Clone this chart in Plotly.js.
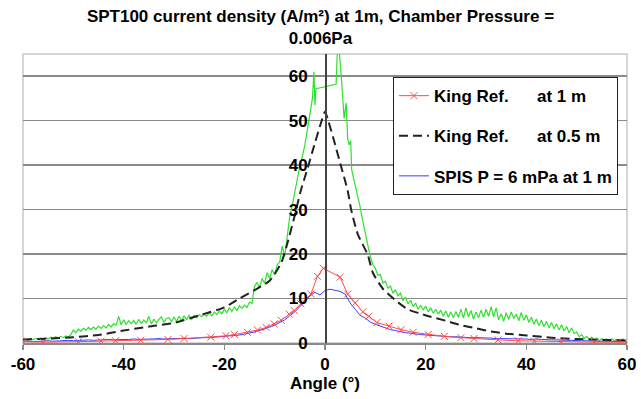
<!DOCTYPE html>
<html>
<head>
<meta charset="utf-8">
<script src="https://cdn.plot.ly/plotly-3.0.1.min.js"></script>
<style>html,body{margin:0;padding:0;background:#fff;}#chart{width:641px;height:399px;}</style>
</head>
<body>
<div id="chart"></div>
<script>
// ---- data ----
const xTickVals = [-60, -40, -20, 0, 20, 40, 60];
const xTickText = ['-60', '-40', '-20', '0', '20', '40', '60'];
const yTickVals = [0, 10, 20, 30, 40, 50, 60];

// King Ref. at 1 m (red, x markers)
const king1Angle = [-60, -56, -49, -44.5, -41.6, -36.6, -31.2, -28, -22.7, -19.7, -18, -15.4, -13.4, -11.7, -10.1, -8.7, -7.1, -6.1, -4.8, -2.8, -1.5, -0.3, 3.0, 4.5, 6.0, 7.5, 8.7, 10.3, 12.7, 15.1, 17.5, 20.5, 23.7, 27, 29.6, 34.4, 38.4, 41.6, 46.9, 53.5, 58.3, 60];
const king1Density = [0.3, 0.2, 0.3, 0.4, 0.5, 0.6, 0.8, 1.0, 1.3, 1.6, 1.9, 2.4, 2.9, 3.5, 4.3, 5.1, 6.5, 7.3, 8.8, 11.0, 15.0, 16.8, 14.8, 11.0, 9.0, 7.0, 6.0, 4.6, 3.8, 3.0, 2.4, 1.9, 1.5, 1.2, 1.0, 0.7, 0.5, 0.4, 0.3, 0.2, 0.2, 0.2];

// King Ref. at 0.5 m (black dashed)
const king05Angle = [-60, -55, -50, -45, -40, -35, -30, -25, -20, -17, -14, -11, -8.7, -7.4, -6.1, -4.8, -3.4, -2, -0.8, 0, 0.7, 1.8, 3.2, 4.5, 5.2, 6.5, 8.5, 9.5, 11.5, 13.8, 16.4, 19, 21, 24, 27, 30, 33, 36, 40, 45, 50, 55, 60];
const king05Density = [0.8, 1.0, 1.3, 1.8, 2.8, 3.7, 4.5, 6.2, 8.0, 10.0, 11.9, 14.0, 18.0, 22.7, 28.3, 34.3, 39.5, 45.0, 49.5, 52.0, 49.8, 45.5, 39.7, 34.3, 30.0, 24.5, 19.8, 15.8, 12.2, 9.8, 7.6, 6.6, 5.9, 5.0, 4.0, 3.3, 2.6, 2.1, 1.7, 1.2, 0.9, 0.7, 0.6];

// SPIS P = 6 mPa at 1 m (blue)
const spisAngle = [-60, -59, -58, -57, -56, -55, -54, -53, -52, -51, -50, -49, -48, -47, -46, -45, -44, -43, -42, -41, -40, -39, -38, -37, -36, -35, -34, -33, -32, -31, -30, -29, -28, -27, -26, -25, -24, -23, -22, -21, -20, -19, -18, -17, -16, -15, -14, -13, -12, -11, -10, -9, -8, -7, -6, -5, -4, -3, -2, -1, 0, 1, 2, 3, 4, 5, 6, 7, 8, 9, 10, 11, 12, 13, 14, 15, 16, 17, 18, 19, 20, 21, 22, 23, 24, 25, 26, 27, 28, 29, 30, 31, 32, 33, 34, 35, 36, 37, 38, 39, 40, 41, 42, 43, 44, 45, 46, 47, 48, 49, 50, 51, 52, 53, 54, 55, 56, 57, 58, 59, 60];
const spisDensity = [0.3, 0.4, 0.3, 0.4, 0.4, 0.5, 0.4, 0.5, 0.5, 0.6, 0.5, 0.6, 0.6, 0.7, 0.6, 0.7, 0.7, 0.8, 0.7, 0.8, 0.8, 0.8, 0.9, 0.8, 0.9, 0.9, 0.9, 1.0, 0.9, 1.0, 1.0, 1.0, 1.1, 1.0, 1.1, 1.1, 1.2, 1.2, 1.3, 1.3, 1.4, 1.5, 1.7, 1.8, 2.0, 2.2, 2.5, 2.8, 3.2, 3.6, 4.0, 4.6, 5.2, 6.1, 7.0, 8.2, 9.2, 10.6, 11.4, 10.8, 11.8, 12.1, 11.9, 11.6, 11.0, 9.0, 7.6, 6.2, 5.6, 4.7, 4.2, 3.8, 3.3, 3.0, 2.8, 2.5, 2.3, 2.2, 2.0, 1.9, 1.8, 1.7, 1.6, 1.6, 1.5, 1.4, 1.4, 1.3, 1.3, 1.2, 1.2, 1.2, 1.1, 1.1, 1.0, 1.0, 1.0, 0.9, 1.0, 0.9, 0.9, 0.8, 0.9, 0.8, 0.7, 0.7, 0.7, 0.6, 0.6, 0.6, 0.5, 0.5, 0.5, 0.4, 0.4, 0.4, 0.4, 0.3, 0.3, 0.3, 0.3];

// Measured curve (green, no legend entry)
const measAngle = [-60, -59.5, -59, -58.5, -58, -57.5, -57, -56.5, -56, -55.5, -55, -54.5, -54, -53.5, -53, -52.5, -52, -51.5, -51, -50.5, -50, -49.5, -49, -48.5, -48, -47.5, -47, -46.5, -46, -45.5, -45, -44.5, -44, -43.5, -43, -42.5, -42, -41.5, -41, -40.5, -40, -39.5, -39, -38.5, -38, -37.5, -37, -36.5, -36, -35.5, -35, -34.5, -34, -33.5, -33, -32.5, -32, -31.5, -31, -30.5, -30, -29.5, -29, -28.5, -28, -27.5, -27, -26.5, -26, -25.5, -25, -24.5, -24, -23.5, -23, -22.5, -22, -21.5, -21, -20.5, -20, -19.5, -19, -18.5, -18, -17.5, -17, -16.5, -16, -15.5, -15, -14.5, -14, -13.5, -13, -12.5, -12, -11.5, -11, -10.5, -10, -9.5, -9, -8.5, -8, -7.5, -7, -6.5, -6, -5.5, -5, -4.5, -4, -3.5, -3, -2.5, -2.2, -2, -1.8, 2.2, 2.5, 2.8, 3.2, 3.5, 3.8, 4.2, 4.5, 4.8, 5.1, 5.3, 5.5, 6, 6.5, 7, 7.5, 8, 8.5, 9, 9.5, 10, 10.5, 11, 11.5, 12, 12.5, 13, 13.5, 14, 14.5, 15, 15.5, 16, 16.5, 17, 17.5, 18, 18.5, 19, 19.5, 20, 20.5, 21, 21.5, 22, 22.5, 23, 23.5, 24, 24.5, 25, 25.5, 26, 26.5, 27, 27.5, 28, 28.5, 29, 29.5, 30, 30.5, 31, 31.5, 32, 32.5, 33, 33.5, 34, 34.5, 35, 35.5, 36, 36.5, 37, 37.5, 38, 38.5, 39, 39.5, 40, 40.5, 41, 41.5, 42, 42.5, 43, 43.5, 44, 44.5, 45, 45.5, 46, 46.5, 47, 47.5, 48, 48.5, 49, 49.5, 50, 50.5, 51, 51.5, 52, 52.5, 53, 53.5, 54, 54.5, 55, 55.5, 56, 56.5, 57, 57.5, 58, 58.5, 59, 59.5, 60];
const measDensity = [0.7, 0.9, 0.6, 1.0, 0.7, 1.0, 0.8, 1.1, 0.8, 1.2, 0.9, 1.3, 1.0, 1.4, 1.1, 1.5, 1.2, 1.6, 1.3, 1.9, 2.9, 2.3, 3.1, 2.6, 3.3, 2.9, 3.5, 3.0, 3.6, 3.1, 3.8, 3.3, 3.9, 3.4, 4.2, 3.6, 4.3, 4.0, 6.0, 4.1, 5.2, 4.2, 5.0, 4.3, 5.1, 4.2, 5.3, 4.4, 5.2, 4.5, 6.0, 4.3, 5.4, 4.5, 5.3, 5.9, 4.6, 5.5, 5.7, 4.8, 5.8, 4.9, 6.0, 5.0, 6.1, 5.2, 6.3, 5.3, 6.2, 5.7, 6.4, 5.9, 6.5, 6.0, 6.9, 6.1, 7.0, 6.4, 7.2, 6.6, 7.6, 6.8, 7.9, 7.1, 8.1, 7.3, 8.4, 7.8, 8.5, 8.0, 9.2, 8.9, 12.8, 13.6, 12.5, 14.5, 13.4, 15.8, 14.5, 16.5, 15.3, 17.6, 18.2, 21.8, 19.5, 24.0, 28.5, 31.0, 34.2, 37.0, 39.8, 42.0, 44.5, 48.0, 51.5, 55.0, 61.0, 53.5, 57.2, 58.2, 67.0, 66.0, 60.5, 56.0, 50.5, 54.0, 46.0, 44.5, 45.5, 39.0, 38.0, 36.0, 33.5, 30.5, 27.5, 24.5, 22.0, 19.5, 17.6, 16.8, 15.2, 15.4, 13.5, 13.9, 12.3, 12.8, 11.2, 12.0, 10.6, 11.2, 9.5, 10.3, 8.8, 9.6, 8.2, 9.0, 7.6, 8.5, 7.4, 8.3, 7.0, 7.9, 6.7, 7.6, 6.5, 7.4, 6.0, 7.2, 5.8, 7.0, 5.7, 7.1, 5.8, 7.6, 5.6, 7.9, 5.9, 7.3, 5.4, 7.0, 5.7, 7.4, 5.8, 7.6, 6.0, 8.2, 5.9, 7.9, 5.2, 6.6, 4.9, 6.8, 5.3, 7.0, 5.5, 6.5, 5.0, 6.9, 5.1, 6.3, 4.6, 5.8, 4.2, 5.4, 3.9, 5.1, 3.7, 4.9, 3.4, 4.6, 3.2, 4.3, 2.9, 4.1, 2.7, 3.7, 2.3, 3.4, 2.1, 2.5, 1.4, 1.9, 1.0, 1.5, 0.8, 1.3, 0.6, 1.1, 0.5, 1.0, 0.5, 0.9, 0.5, 0.9, 0.5, 0.8, 0.5, 0.8, 0.5, 0.8, 0.5, 0.7];

const seriesNames = ['King Ref.\u00a0\u00a0\u00a0\u00a0\u00a0\u00a0at 1 m', 'King Ref.\u00a0\u00a0\u00a0\u00a0\u00a0\u00a0at 0.5 m', 'SPIS P = 6 mPa at 1 m'];
const titleText = 'SPT100 current density (A/m²) at 1m, Chamber Pressure =<br>0.006Pa';
const xTitle = 'Angle (°)';

// ---- chart ----
const FONT = 'Liberation Sans, Arial, sans-serif';
const traces = [
  {x: measAngle, y: measDensity, type: 'scatter', mode: 'lines', showlegend: false,
   line: {color: '#2fe02f', width: 1.2}, hoverinfo: 'skip'},
  {x: king05Angle, y: king05Density, type: 'scatter', mode: 'lines', name: seriesNames[1],
   legendgroup: 'b', legendrank: 2, line: {color: '#222222', width: 2, dash: '9px,5px', shape: 'spline', smoothing: 0.6}},
  {x: spisAngle, y: spisDensity, type: 'scatter', mode: 'lines', name: seriesNames[2],
   legendgroup: 'c', legendrank: 3, line: {color: '#3c3cff', width: 1}},
  {x: king1Angle, y: king1Density, type: 'scatter', mode: 'lines+markers', name: seriesNames[0],
   legendgroup: 'a', legendrank: 1, line: {color: '#ff4a4a', width: 1},
   marker: {symbol: 'x-thin', size: 7, color: '#ff4a4a', line: {color: '#ff4a4a', width: 1}}}
];

const layout = {
  width: 641, height: 399,
  margin: {l: 23, r: 14, t: 54, b: 56},
  paper_bgcolor: '#ffffff', plot_bgcolor: '#ffffff',
  font: {family: FONT, size: 17, color: '#000'},
  title: {text: titleText, font: {family: FONT, size: 17, weight: 'bold', color: '#000'},
          x: 0.5, xanchor: 'center', y: 0.945, yanchor: 'top'},
  xaxis: {range: [-60, 60], tickmode: 'array', tickvals: xTickVals, ticktext: xTickText,
          ticks: 'outside', ticklen: 5, tickcolor: '#8a8a8a', tickwidth: 1.5,
          showgrid: false, zeroline: false, showline: true, linecolor: '#8a8a8a', linewidth: 1.5,
          tickfont: {family: FONT, size: 17, weight: 'bold'},
          title: {text: xTitle, font: {family: FONT, size: 17, weight: 'bold'}, standoff: 4}},
  yaxis: {range: [0, 65], anchor: 'free', position: 0.5, tickmode: 'array', tickvals: yTickVals,
          showgrid: true, gridcolor: '#8a8a8a', gridwidth: 1.5, zeroline: false,
          showline: true, linecolor: '#444444', linewidth: 1.5, ticks: '', ticklabelstandoff: 14,
          tickfont: {family: FONT, size: 17, weight: 'bold'}},
  legend: {x: 0.6126, y: 0.92, xanchor: 'left', yanchor: 'top', bgcolor: '#ffffff',
           bordercolor: '#222222', borderwidth: 1, traceorder: 'grouped', tracegroupgap: 15,
           font: {family: FONT, size: 17, weight: 'bold', color: '#000'}},
  shapes: [{type: 'rect', xref: 'paper', yref: 'paper', x0: 0, x1: 1, y0: 0, y1: 1,
            line: {color: '#c8c8c8', width: 1.5}, layer: 'below'}]
};

Plotly.newPlot('chart', traces, layout, {displayModeBar: false, staticPlot: true});
</script>
</body>
</html>
